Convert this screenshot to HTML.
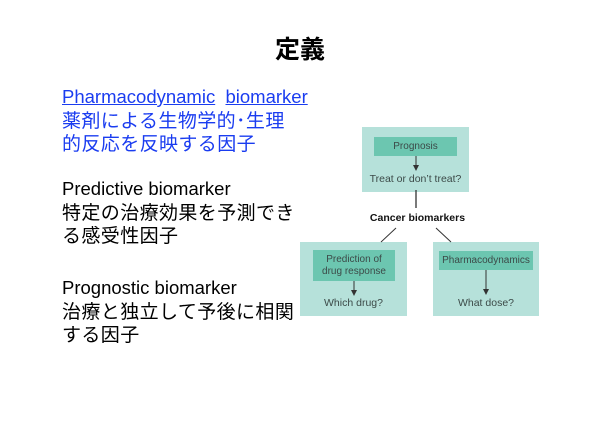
<!DOCTYPE html>
<html><head><meta charset="utf-8"><style>
body{margin:0;width:600px;height:425px;background:#fff;position:relative;overflow:hidden;font-family:"Liberation Sans","Noto Sans CJK JP",sans-serif}
.t{position:absolute;font-size:19px;line-height:23.5px;left:62px;color:#000;white-space:nowrap;letter-spacing:0.4px}
.t .l{letter-spacing:0;font-size:18.5px}
.b{color:#1a3cf0}
.a{position:absolute;}
.box{position:absolute;background:#b6e1da}
.in{position:absolute;background:#6cc6b0;color:#3c4a48;font-size:10px;text-align:center;display:flex;align-items:center;justify-content:center;line-height:12px}
.q{position:absolute;font-size:10.5px;color:#3c4a48;text-align:center;white-space:nowrap}
</style></head><body>
<div style="position:absolute;left:0;width:600px;top:30px;text-align:center;font-size:25px;font-weight:bold">定義</div>
<div class="t b" style="top:85px"><span class="l"><u>Pharmacodynamic</u>&nbsp; <u>biomarker</u></span><br>薬剤による生物学的･生理<br>的反応を反映する因子</div>
<div class="t" style="top:177px"><span class="l">Predictive biomarker</span><br>特定の治療効果を予測でき<br>る感受性因子</div>
<div class="t" style="top:276px"><span class="l">Prognostic biomarker</span><br>治療と独立して予後に相関<br>する因子</div>

<div class="box" style="left:362px;top:127px;width:107px;height:65px"></div>
<div class="in" style="left:374px;top:137px;width:83px;height:19px">Prognosis</div>
<div class="q" style="left:362px;width:107px;top:173px">Treat or don’t treat?</div>

<div class="box" style="left:300px;top:242px;width:107px;height:74px"></div>
<div class="in" style="left:313px;top:250px;width:82px;height:31px">Prediction of<br>drug response</div>
<div class="q" style="left:300px;width:107px;top:297px">Which drug?</div>

<div class="box" style="left:433px;top:242px;width:106px;height:74px"></div>
<div class="in" style="left:439px;top:251px;width:94px;height:19px">Pharmacodynamics</div>
<div class="q" style="left:433px;width:106px;top:297px">What dose?</div>

<div class="q" style="left:360px;width:115px;top:212px;font-weight:bold;color:#111">Cancer biomarkers</div>

<svg class="a" style="left:0;top:0" width="600" height="425">
<defs><marker id="m" markerWidth="6" markerHeight="6" refX="5" refY="3" orient="auto"><path d="M0,0L6,3L0,6z" fill="#333"/></marker></defs>
<g stroke="#333" stroke-width="1">
<line x1="416" y1="156" x2="416" y2="170" marker-end="url(#m)"/>
<line x1="416" y1="190" x2="416" y2="208" stroke-width="1.3"/>
<line x1="396" y1="228" x2="381" y2="242"/>
<line x1="436" y1="228" x2="451" y2="242"/>
<line x1="354" y1="281" x2="354" y2="295" marker-end="url(#m)"/>
<line x1="486" y1="270" x2="486" y2="294" marker-end="url(#m)"/>
</g></svg>
</body></html>
